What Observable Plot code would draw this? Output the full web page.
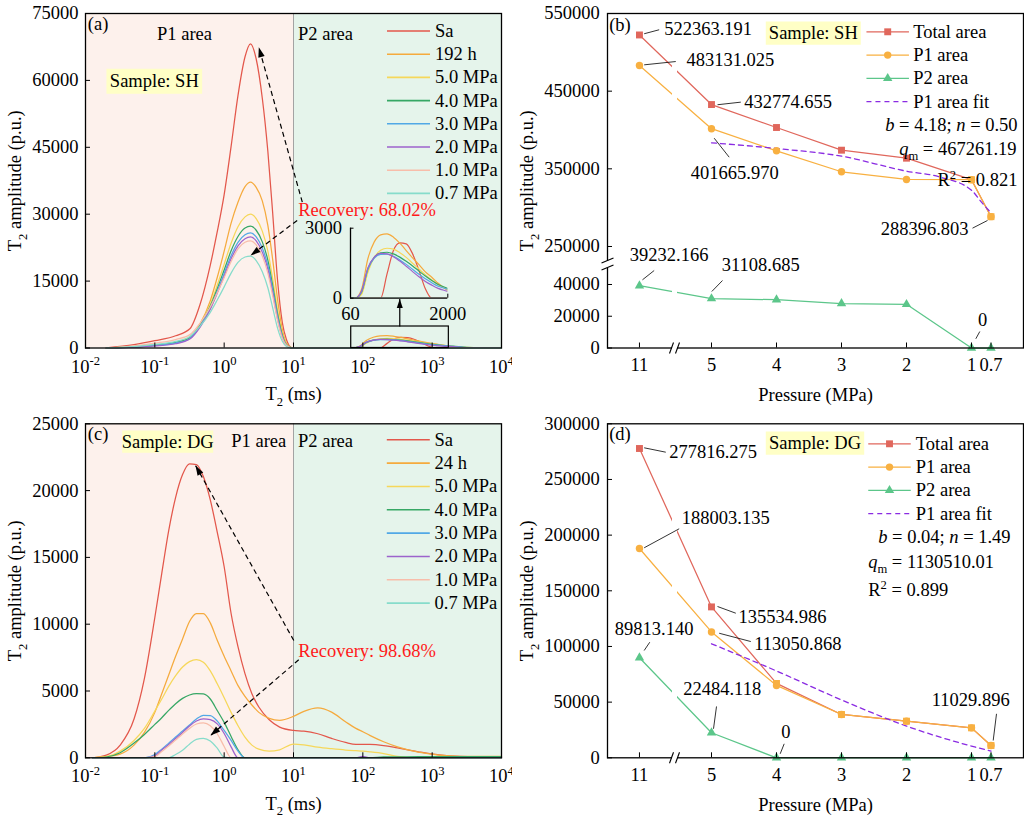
<!DOCTYPE html>
<html>
<head>
<meta charset="utf-8">
<script src="https://cdn.jsdelivr.net/npm/d3@7"></script>
<script src="https://cdn.jsdelivr.net/npm/@observablehq/plot@0.6"></script>
<style>
html,body{margin:0;padding:0;background:#fff;}
#wrap{position:relative;width:1024px;height:821px;overflow:hidden;background:#fff;}
#wrap>div{position:absolute;}
#wrap svg{display:block;overflow:visible;}
</style>
</head>
<body>
<div id="wrap"></div>
<script>
// ================= DATA =================
const curveLabelsA = ["Sa","192 h","5.0 MPa","4.0 MPa","3.0 MPa","2.0 MPa","1.0 MPa","0.7 MPa"];
const curveLabelsC = ["Sa","24 h","5.0 MPa","4.0 MPa","3.0 MPa","2.0 MPa","1.0 MPa","0.7 MPa"];
const curveColors  = ["#e3574b","#f5aa3d","#f6d75a","#36a765","#51a8e6","#9d63cc","#f8bdaa","#86dccb"];

// panel (a): log10(T2 / ms) grid and amplitudes (p.u.)
const t2LogA = [-1.7,-1.3,-1.0,-0.7,-0.495,-0.347,-0.2,-0.102,0,0.1,0.199,0.301,0.38,0.462,0.55,0.63,0.7,0.771,0.839,0.898,0.968,1.0,
                1.85,1.95,2.05,2.15,2.25,2.35,2.45,2.55,2.65,2.75,2.85,2.95,3.05,3.15,3.3,3.5,4.0];
const aSa  = [30,750,1650,2750,4300,9800,18600,25900,34400,45200,56600,65300,68200,64800,56000,44100,30200,15000,5700,1900,100,0,
              0,0,0,0,0,1040,2040,2370,2330,1900,1190,400,0,0,0,0,0];
const a192 = [0,250,600,1200,2350,5400,10600,15700,21700,28000,32700,36200,37200,36000,33000,27500,19800,10800,4100,1100,100,0,
              0,370,1690,2415,2715,2760,2615,2360,2040,1730,1440,1130,900,640,330,100,0];
const a50  = [0,250,600,1200,2300,5200,9800,14000,18800,23500,27200,29400,30000,29000,26200,21700,15500,8500,3300,900,80,0,
              0,150,1100,1750,2050,2140,2100,1950,1750,1500,1250,1000,780,580,380,120,0];
const a40  = [0,250,650,1250,2300,5100,9400,13200,17500,21800,25000,26900,27300,26400,23800,19700,14000,7600,2900,750,60,0,
              0,250,1250,1750,1940,1970,1900,1760,1580,1380,1160,950,760,590,420,130,0];
const a30  = [0,220,550,1100,2150,4900,9000,12600,16700,20700,23700,25400,25800,24900,22400,18500,13100,7000,2600,650,50,0,
              0,280,1250,1720,1880,1890,1800,1640,1450,1240,1030,830,660,510,380,110,0];
const a20  = [0,180,450,950,2000,4700,8700,12200,16100,20000,22900,24500,24900,24000,21500,17700,12400,6500,2400,600,40,0,
              0,300,1300,1760,1920,1900,1780,1590,1370,1140,920,720,560,420,290,80,0];
const a10  = [0,500,1100,1900,3000,5600,9200,12300,15800,19400,22200,23700,24000,23100,20600,16800,11700,6100,2200,550,40,0,
              0,0,0,0,0,0,0,0,0,0,0,0,0,0,0,0,0];
const a07  = [0,300,800,1500,2600,4900,8000,10700,13700,16800,19200,20400,20600,19600,17100,13500,9000,4400,1500,350,20,0,
              0,0,0,0,0,0,0,0,0,0,0,0,0,0,0,0,0];

// panel (c)
const t2LogC = [-1.9,-1.7,-1.5,-1.3,-1.15,-1.0,-0.9,-0.8,-0.7,-0.6,-0.5,-0.4,-0.3,-0.2,-0.1,0,0.1,0.2,0.3,0.4,0.5,0.65,0.8,
                1.0,1.15,1.35,1.55,1.75,1.9,2.0,2.1,2.3,2.5,2.8,3.1,3.4,4.0];
const cSa = [0,200,950,2900,5950,10500,13800,17000,19500,21200,22000,21950,21050,19300,16900,14300,10800,8300,6300,4800,3800,2850,2300,
             2050,2000,1800,1450,1150,1000,1000,1000,920,740,450,210,100,50];
const c24 = [0,100,280,950,1900,3400,4800,6200,7600,8900,10200,10800,10800,10100,8800,7600,6500,5400,4600,3950,3400,2950,2800,
             3100,3480,3740,3420,2700,2200,1950,1680,1200,820,420,200,110,100];
const c50 = [0,80,500,1300,2200,3500,4400,5350,6150,6800,7200,7350,7150,6500,5540,4500,3400,2400,1550,950,650,500,600,
             1030,970,800,680,580,530,500,450,320,100,0,0,0,0];
const c40 = [0,60,380,1100,1750,2500,3000,3550,4050,4450,4700,4800,4780,4400,3540,2650,1600,600,0,0,0,0,0,
             0,0,0,0,0,0,0,0,60,70,80,80,80,80];
const c30 = [0,0,0,0,0,250,650,1100,1560,2000,2450,2900,3180,3150,2750,2050,1300,500,0,0,0,0,0,
             0,0,0,0,0,0,0,0,0,0,0,0,0,0];
const c20 = [0,0,0,0,0,150,580,1000,1450,1900,2380,2750,2910,2850,2540,1820,820,0,0,0,0,0,0,
             0,0,0,0,0,0,100,0,0,0,0,0,0,0];
const c10 = [0,0,0,0,0,80,480,880,1330,1780,2200,2530,2610,2400,1800,850,0,0,0,0,0,0,0,
             0,0,0,0,0,0,0,0,0,0,0,0,0,0];
const c07 = [0,0,0,0,0,0,0,0,250,570,1020,1380,1460,1260,720,50,0,0,0,0,0,0,0,
             0,0,0,0,0,0,0,0,0,0,0,0,0,0];

// panels (b), (d): pressure steps
const pressures = [11,5,4,3,2,1,0.7];
const pressureLabels = ["11","5","4","3","2","1","0.7"];
const bTotal = [522363.191,432774.655,403200,374000,363700,336000,288396.803];
const bP1    = [483131.025,401665.970,373200,346200,336300,336000,288396.803];
const bP2    = [39232.166,31108.685,30400,28000,27500,0,0];
const bFitP  = [5,4,3,2,1.5,1,0.85,0.7];
const bFit   = [383500,376200,366300,347000,339700,322500,307500,293300];
const bFitParams = ["4.18","0.50","467261.19","0.821"];
const dTotal = [277816.275,135534.986,66800,38900,32900,26900,11029.896];
const dP1    = [188003.135,113050.868,65000,38900,32900,26900,11029.896];
const dP2    = [89813.140,22484.118,0,0,0,0,0];
const dFitP  = [5,4,3,2,1,0.7];
const dFit   = [102400,78000,52000,28500,10500,6000];
const dFitParams = ["0.04","1.49","1130510.01","0.899"];

// ================= STYLE / HELPERS =================
const FONT = "'Liberation Serif','Times New Roman',serif";
const FS = 18.5;
const TOTC = "#e0675c", P1C = "#f8b041", P2C = "#5cc68a", FITC = "#8a2be2";
const STYLE = `font-family:${FONT};font-size:${FS}px;background:white;overflow:visible;`;

const lineSym = (w) => ({draw(c){ c.moveTo(-w/2,0); c.lineTo(w/2,0); }});
const rectSym = (x,y,w,h) => ({draw(c){ c.rect(x,y,w,h); }});
const segSym  = (x1,y1,x2,y2) => ({draw(c){ c.moveTo(x1,y1); c.lineTo(x2,y2); }});
const headSym = (L,W) => ({draw(c){ c.moveTo(0,0); c.lineTo(-W/2,L); c.lineTo(W/2,L); c.closePath(); }});

const fdot  = (dx, dy, symbol, o={}) => Plot.dot([0], {frameAnchor:"top-left", dx, dy, symbol, ...o});
const ftext = (str, dx, dy, o={}) => Plot.text([str], {text: d => d, frameAnchor:"top-left", dx, dy,
                                   textAnchor:"start", lineAnchor:"middle", fontSize:FS, fill:"black", ...o});

const SVGNS = "http://www.w3.org/2000/svg";
function rich(root){
  root.querySelectorAll("text").forEach(el => {
    if (el.children.length) return;
    const s = el.textContent;
    if (!/[~^*]/.test(s)) return;
    const fs = parseFloat(getComputedStyle(el).fontSize) || FS;
    el.textContent = "";
    let it = false, mode = 0, cur = 0, buf = "";
    const flush = () => {
      if (!buf) return;
      const t = document.createElementNS(SVGNS, "tspan");
      const target = mode === 1 ? fs*0.28 : mode === 2 ? -fs*0.42 : 0;
      if (target !== cur) t.setAttribute("dy", (target - cur).toFixed(2));
      cur = target;
      if (mode) t.setAttribute("font-size", (fs*0.68).toFixed(2));
      if (it) t.setAttribute("font-style", "italic");
      t.textContent = buf; el.appendChild(t); buf = "";
    };
    for (const ch of s) {
      if (ch === "*") { flush(); it = !it; }
      else if (ch === "~") { flush(); mode = mode === 1 ? 0 : 1; }
      else if (ch === "^") { flush(); mode = mode === 2 ? 0 : 2; }
      else buf += ch;
    }
    flush();
  });
}
const wrap = document.getElementById("wrap");
function place(svg, left, top, w){
  const d = document.createElement("div");
  d.style.left = left + "px"; d.style.top = top + "px"; d.style.width = w + "px";
  d.appendChild(svg); wrap.appendChild(d); rich(svg);
}

// ================= T2 SPECTRUM PANELS =================
function curvePanel(c){
  const marks = [
    Plot.rect([{x1:0.01, x2:10, f:"#fdf1ec"}, {x1:10, x2:10000, f:"#e5f4eb"}], {x1:"x1", x2:"x2", fill:"f"}),
    Plot.ruleX([10], {stroke:"#a3a3a3", strokeWidth:1})
  ];
  c.series.forEach((vals, k) => {
    marks.push(Plot.line(c.logs.map((l,i) => ({t2: 10**l, amp: vals[i]})),
      {x:"t2", y:"amp", stroke:curveColors[k], strokeWidth:1.25, curve:"monotone-x"}));
  });
  if (c.zoomBox) {
    const z = c.zoomBox;
    marks.push(Plot.rect([z], {x1:"x1", x2:"x2", y1:"y1", y2:"y2", fill:"none", stroke:"black", strokeWidth:1.2}));
    marks.push(Plot.link([z], {x1:"xa", x2:"xa", y1:"y2", y2:"ya", stroke:"black", strokeWidth:1.2}));
    marks.push(Plot.dot([z], {x:"xa", y:"ya", symbol:headSym(9,6), fill:"black", stroke:"none"}));
  }
  c.arrows.forEach(a => {
    marks.push(Plot.link([a], {x1:"x1", y1:"y1", x2:"x2", y2:"y2", stroke:"black", strokeWidth:1.2, strokeDasharray:"5,3.5"}));
    marks.push(Plot.dot([a], {x:"x2", y:"y2", symbol:headSym(10,6.5), rotate:a.rot, fill:"black", stroke:"none"}));
  });
  marks.push(
    Plot.frame({stroke:"black", strokeWidth:1.3}),
    Plot.axisX({ticks:[0.01,0.1,1,10,100,1000,10000], tickFormat: v => `10^${Math.round(Math.log10(v))}^`,
                tickSize:-5, tickPadding:16.5, label:null}),
    Plot.axisY({ticks:c.yTicks, tickFormat: v => String(v), tickSize:-5, tickPadding:12, label:null}),
    ftext(c.tag, c.tagPos[0], c.tagPos[1]),
    fdot(c.sampleBox.dx, c.sampleBox.dy, rectSym(-c.sampleBox.w/2, -c.sampleBox.h/2, c.sampleBox.w, c.sampleBox.h), {fill:"#ffffc6", stroke:"none"}),
    ftext(c.sample, c.sampleBox.dx, c.sampleBox.dy, {textAnchor:"middle"}),
    ftext("P1 area", c.p1Pos[0], c.p1Pos[1], {textAnchor:"middle"}),
    ftext("P2 area", c.p2Pos[0], c.p2Pos[1], {textAnchor:"middle"}),
    ftext(c.recovery, c.recPos[0], c.recPos[1], {fill:"#ff1a1a"})
  );
  c.labels.forEach((lab, k) => {
    const dy = c.leg.dy0 + c.leg.step * k;
    marks.push(fdot(c.leg.dxLine, dy, lineSym(43), {stroke:curveColors[k], strokeWidth:1.6, fill:"none"}));
    marks.push(ftext(lab, c.leg.dxText, dy));
  });
  marks.push(
    Plot.text(["T~2~ amplitude (p.u.)"], {text:d=>d, frameAnchor:"left", dx:-70, rotate:-90, fontSize:FS, textAnchor:"middle", lineAnchor:"middle"}),
    Plot.text(["T~2~ (ms)"], {text:d=>d, frameAnchor:"bottom", dy:46.5, fontSize:FS, textAnchor:"middle", lineAnchor:"middle"})
  );
  return Plot.plot({
    width:512, height:c.height, marginLeft:85, marginRight:11, marginTop:c.mt, marginBottom:c.mb,
    style: STYLE,
    x:{type:"log", domain:[0.01,10000]},
    y:{domain:[0,c.yMax]},
    marks
  });
}

const svgA = curvePanel({
  height:410, mt:13, mb:62.5, yMax:75000, yTicks:[0,15000,30000,45000,60000,75000],
  logs:t2LogA, series:[aSa,a192,a50,a40,a30,a20,a10,a07], labels:curveLabelsA,
  tag:"(a)", tagPos:[2.3,10.3], sample:"Sample: SH", sampleBox:{dx:68.8, dy:67.8, w:95.7, h:25},
  p1Pos:[99,21], p2Pos:[240,21], recovery:"Recovery: 68.02%", recPos:[212.7,196.3],
  leg:{dxLine:323, dxText:349.5, dy0:17.5, step:23.2},
  zoomBox:{x1:68, x2:1740, y1:0, y2:4820, xa:341, ya:10990},
  arrows:[{x1:13.4, y1:32690, x2:3.16, y2:67440, rot:-15.6},
          {x1:11.3, y1:28590, x2:2.40, y2:20740, rot:-126.9}]
});
place(svgA, 0, 0, 512);

// inset of (a)
const insetSeries = [aSa,a192,a50,a40,a30,a20,a10,a07];
const insetMarks = [];
insetSeries.forEach((vals,k) => {
  insetMarks.push(Plot.line(t2LogA.map((l,i) => ({t2:10**l, amp:vals[i]})),
    {x:"t2", y:"amp", stroke:curveColors[k], strokeWidth:1.2, curve:"monotone-x", clip:true}));
});
insetMarks.push(
  Plot.ruleX([60], {stroke:"black", strokeWidth:1.3}),
  Plot.ruleY([0], {stroke:"black", strokeWidth:1.3}),
  Plot.axisX({ticks:[60,2000], tickFormat:v=>String(v), tickSize:-4, tickPadding:13, label:null}),
  Plot.axisY({ticks:[0,3000], tickFormat:v=>String(v), tickSize:-3.5, tickPadding:12, label:null})
);
const svgInset = Plot.plot({
  width:170, height:130, marginLeft:50, marginRight:22.7, marginTop:27.7, marginBottom:32.3,
  style:`font-family:${FONT};font-size:${FS}px;background:transparent;overflow:visible;`,
  x:{type:"log", domain:[60,2000]}, y:{domain:[0,3000]},
  marks: insetMarks
});
place(svgInset, 300, 200, 170);

const svgC = curvePanel({
  height:411, mt:13.3, mb:63.7, yMax:25000, yTicks:[0,5000,10000,15000,20000,25000],
  logs:t2LogC, series:[cSa,c24,c50,c40,c30,c20,c10,c07], labels:curveLabelsC,
  tag:"(c)", tagPos:[2.3,10], sample:"Sample: DG", sampleBox:{dx:82.2, dy:17.9, w:91, h:22.3},
  p1Pos:[173.3,17.4], p2Pos:[240,17.4], recovery:"Recovery: 98.68%", recPos:[212.7,227.4],
  leg:{dxLine:322.8, dxText:349, dy0:16, step:23.33},
  zoomBox:null,
  arrows:[{x1:10.1, y1:8780, x2:0.386, y2:21880, rot:-29.3},
          {x1:11.9, y1:7335, x2:0.635, y2:1670, rot:-130.6}]
});
place(svgC, 0, 410, 512);

// ================= PRESSURE PANELS =================
const pos = p => p <= 5 ? p : 5 + (p - 5) * 0.1847;   // x-axis break between 11 and 5

function pressurePanel(c){
  const ty = c.ty;
  const pts = vals => pressures.map((p,i) => ({x:pos(p), y:ty(vals[i]), v:vals[i], z:c.p2[i] === 0}));
  const tot = pts(c.total), p1 = pts(c.p1), p2 = pts(c.p2);
  const fit = c.fitP.map((p,i) => ({x:pos(p), y:ty(c.fit[i])}));
  const xt = pressures.map(pos);
  const xLab = new Map(xt.map((t,i) => [t, pressureLabels[i]]));
  const yt = c.yTicks.map(ty);
  const yLab = new Map(yt.map((t,i) => [t, String(c.yTicks[i])]));
  const frameH = c.height - c.mt - c.mb;
  const marks = [
    Plot.line(tot, {x:"x", y:"y", stroke:TOTC, strokeWidth:1.25}),
    Plot.line(p1,  {x:"x", y:"y", stroke:P1C, strokeWidth:1.25}),
    Plot.line(p2,  {x:"x", y:"y", stroke:P2C, strokeWidth:1.25}),
    Plot.line(fit, {x:"x", y:"y", stroke:FITC, strokeWidth:1.3, strokeDasharray:"5,4", curve:"monotone-x"}),
    Plot.dot(tot, {x:"x", y:"y", symbol:"square", r:3.9, fill:TOTC, filter:d => !d.z}),
    Plot.dot(p1,  {x:"x", y:"y", symbol:"circle", r:3.7, fill:P1C}),
    Plot.dot(tot, {x:"x", y:"y", symbol:"square", r:3.9, fill:P1C, filter:d => d.z}),
    Plot.dot(p2,  {x:"x", y:"y", symbol:"triangle", r:3.5, fill:P2C}),
    Plot.frame({stroke:"black", strokeWidth:1.3}),
    // x-axis break
    fdot(67, frameH, rectSym(-2.5, -300, 5, 302), {fill:"white", stroke:"none"}),
    fdot(67, frameH, segSym(-5, 5.5, -1, -5.5), {stroke:"black", strokeWidth:1.1, fill:"none"}),
    fdot(67, frameH, segSym(1, 5.5, 5, -5.5), {stroke:"black", strokeWidth:1.1, fill:"none"}),
    Plot.axisX({ticks:xt, tickFormat:d => xLab.get(d), tickSize:-5, tickPadding:15, label:null}),
    Plot.axisY({ticks:yt, tickFormat:d => yLab.get(d), tickSize:-5, tickPadding:12.7, label:null})
  ];
  if (c.yBreak != null) {
    marks.push(
      fdot(0, c.yBreak, rectSym(-2, -3, 4, 6.5), {fill:"white", stroke:"none"}),
      fdot(0, c.yBreak, segSym(-6, -1, 6, -6), {stroke:"black", strokeWidth:1.1, fill:"none"}),
      fdot(0, c.yBreak, segSym(-6, 6, 6, 1), {stroke:"black", strokeWidth:1.1, fill:"none"})
    );
  }
  const series = {total:tot, p1:p1, p2:p2};
  c.ann.forEach(a => {
    const d = series[a.s][a.i];
    marks.push(Plot.dot([d], {x:"x", y:"y", symbol:segSym(...a.lead), stroke:"black", strokeWidth:0.8, fill:"none"}));
    marks.push(Plot.text([d], {x:"x", y:"y", text:d => d.v === 0 ? "0" : d.v.toFixed(3), dx:a.dx, dy:a.dy,
                               textAnchor:a.anchor, lineAnchor:"middle", fontSize:FS}));
  });
  const fp = c.fitParams;
  marks.push(
    ftext(`*b* = ${fp[0]}; *n* = ${fp[1]}`, c.fitText[0][0], c.fitText[0][1]),
    ftext(`*q*~m~ = ${fp[2]}`, c.fitText[1][0], c.fitText[1][1]),
    ftext(`R^2^ = ${fp[3]}`, c.fitText[2][0], c.fitText[2][1]),
    ftext(c.tag, c.tagPos[0], c.tagPos[1]),
    fdot(c.sampleBox.dx, c.sampleBox.dy, rectSym(-c.sampleBox.w/2, -c.sampleBox.h/2, c.sampleBox.w, c.sampleBox.h), {fill:"#ffffc6", stroke:"none"}),
    ftext(c.sample, c.sampleBox.dx, c.sampleBox.dy, {textAnchor:"middle"})
  );
  const leg = [
    {label:"Total area", color:TOTC, sym:"square", r:3.9},
    {label:"P1 area", color:P1C, sym:"circle", r:3.7},
    {label:"P2 area", color:P2C, sym:"triangle", r:3.5},
    {label:"P1 area fit", color:FITC, sym:null}
  ];
  leg.forEach((L, k) => {
    const dy = c.leg.dy0 + c.leg.step * k;
    marks.push(fdot(c.leg.dxLine, dy, lineSym(42.5), {stroke:L.color, strokeWidth:1.3, fill:"none",
               strokeDasharray: L.sym ? null : "5,4"}));
    if (L.sym) marks.push(fdot(c.leg.dxLine, dy, L.sym, {r:L.r, fill:L.color, stroke:"none"}));
    marks.push(ftext(L.label, c.leg.dxText, dy));
  });
  marks.push(
    Plot.text(["T~2~ amplitude (p.u.)"], {text:d=>d, frameAnchor:"left", dx:-80, rotate:-90, fontSize:FS, textAnchor:"middle", lineAnchor:"middle"}),
    Plot.text(["Pressure (MPa)"], {text:d=>d, frameAnchor:"bottom", dy:47.5, fontSize:FS, textAnchor:"middle", lineAnchor:"middle"})
  );
  return Plot.plot({
    width:512, height:c.height, marginLeft:95, marginRight:1, marginTop:c.mt, marginBottom:c.mb,
    style: STYLE,
    x:{domain:[6.6,0.2]},
    y:{domain:c.yDomain},
    marks
  });
}

// (b) uses a broken y-axis: lower segment 0..~50000, upper segment 250000..550000
const yb = v => v < 150000 ? v : 63940 + (v - 250000) * 0.4892;

const svgB = pressurePanel({
  height:410, mt:13, mb:62.5, ty:yb, yDomain:[0, yb(550000)],
  yTicks:[0,20000,40000,250000,350000,450000,550000], yBreak:250.5,
  total:bTotal, p1:bP1, p2:bP2, fitP:bFitP, fit:bFit, fitParams:bFitParams,
  fitText:[[277.7,112],[291.7,135.3],[330,167]],
  ann:[
    {s:"total", i:0, dx:24.7, dy:-6.2, anchor:"start", lead:[4.7,-1.2,19.7,-5.2]},
    {s:"p1", i:0, dx:47, dy:-5.6, anchor:"start", lead:[4.7,-0.6,36.3,-3.9]},
    {s:"total", i:1, dx:32.7, dy:-2.4, anchor:"start", lead:[6,0.2,29.3,-2.4]},
    {s:"p1", i:1, dx:-20.7, dy:44.1, anchor:"start", lead:[2.7,9.5,17.7,28.5]},
    {s:"p1", i:6, dx:-22.5, dy:12.1, anchor:"end", lead:[-18.5,11.5,-3.5,3.8]},
    {s:"p2", i:0, dx:-9.7, dy:-30.2, anchor:"start", lead:[3,-5.9,14.7,-15.2]},
    {s:"p2", i:1, dx:10.3, dy:-33.1, anchor:"start", lead:[0.3,-7.1,11,-18.1]},
    {s:"p2", i:5, dx:11, dy:-27.5, anchor:"middle", lead:[4.3,-9.2,8.3,-16.5]}
  ],
  tag:"(b)", tagPos:[1.7,12], sample:"Sample: SH", sampleBox:{dx:205.8, dy:19.7, w:95, h:23.3},
  leg:{dxLine:280.2, dxText:305.7, dy0:18.3, step:23.3}
});
place(svgB, 512, 0, 512);

const svgD = pressurePanel({
  height:411, mt:13.3, mb:63.7, ty:v => v, yDomain:[0,300000],
  yTicks:[0,50000,100000,150000,200000,250000,300000], yBreak:null,
  total:dTotal, p1:dP1, p2:dP2, fitP:dFitP, fit:dFit, fitParams:dFitParams,
  fitText:[[270.7,113.4],[260.7,138.4],[260.7,166.7]],
  ann:[
    {s:"total", i:0, dx:29.7, dy:3.7, anchor:"start", lead:[4.7,-0.7,26.3,3.7]},
    {s:"p1", i:0, dx:42.3, dy:-30.7, anchor:"start", lead:[4.7,-0.7,39.7,-19.7]},
    {s:"total", i:1, dx:27, dy:10.3, anchor:"start", lead:[6,-0.4,24.3,6.3]},
    {s:"p1", i:1, dx:42.7, dy:11.9, anchor:"start", lead:[7.7,1.3,39.3,9.6]},
    {s:"p2", i:0, dx:-24.7, dy:-29, anchor:"start", lead:[4.7,-7.3,10.3,-15.6]},
    {s:"p2", i:1, dx:-28.3, dy:-44, anchor:"start", lead:[2,-4,5,-26.3]},
    {s:"p2", i:2, dx:9.3, dy:-25.6, anchor:"middle", lead:[3.7,-4,7.7,-14]},
    {s:"p1", i:6, dx:-59.2, dy:-45, anchor:"start", lead:[2.2,-5,5.5,-31.7]}
  ],
  tag:"(d)", tagPos:[1.7,10], sample:"Sample: DG", sampleBox:{dx:207.5, dy:19.4, w:98.4, h:23.3},
  leg:{dxLine:282, dxText:308.3, dy0:20, step:23.3}
});
place(svgD, 512, 410, 512);
</script>
</body>
</html>
